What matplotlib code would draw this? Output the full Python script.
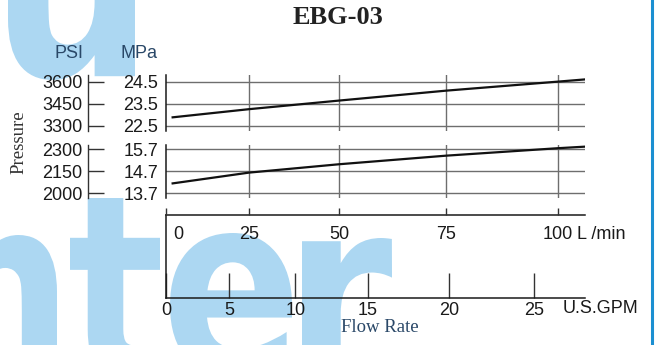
import numpy as np
import matplotlib
matplotlib.use("Agg")
import matplotlib.pyplot as plt
from matplotlib.textpath import TextPath
from matplotlib.patches import PathPatch
from matplotlib.font_manager import FontProperties
from matplotlib.transforms import Affine2D
from matplotlib.lines import Line2D

W, H = 657, 345
LPM_PER_GPM = 3.785411784

# chart data
flow_lpm = [2, 25, 50, 75, 100, 106]
mpa_high = [22.88, 23.25, 23.64, 24.09, 24.50, 24.60]
mpa_low = [14.15, 14.64, 15.02, 15.41, 15.75, 15.82]

mpa_ticks_high = [22.5, 23.5, 24.5]
psi_ticks_high = [3300, 3450, 3600]
mpa_ticks_low = [13.7, 14.7, 15.7]
psi_ticks_low = [2000, 2150, 2300]
lpm_ticks = [0, 25, 50, 75, 100]
gpm_ticks = [0, 5, 10, 15, 20, 25]

# the printed flow axis is stretched toward high flow; knots reproduce its spacing
SCALE_LPM = [-50, 0, 25, 50, 75, 100, 150]
SCALE_POS = [-166, 0, 83, 173, 280, 392, 616]


def fwd(x):
    return np.interp(x, SCALE_LPM, SCALE_POS)


def inv(y):
    return np.interp(y, SCALE_POS, SCALE_LPM)


def box(left, top, right, bottom):
    # pixel box -> figure fraction rect
    return [left / W, 1 - bottom / H, (right - left) / W, (bottom - top) / H]


SANS = "Liberation Sans"
SERIF = "Liberation Serif"
INK = "#1a1a1a"
BLUE_TXT = "#2a4868"
GRID = "#6e6e6e"

fig = plt.figure(figsize=(W / 100, H / 100), dpi=100)
fig.patch.set_facecolor("white")

# watermark letters behind the chart
wm_font = FontProperties(family="DejaVu Sans", weight="bold")
watermark = [
    ("u", (8, -70, 135, 80)),
    ("n", (-53, 235, 57, 375)),
    ("t", (70, 198, 160, 378)),
    ("e", (170, 233, 292, 378)),
    ("r", (302, 238, 392, 375)),
]
for ch, (l, t, r, b) in watermark:
    p = TextPath((0, 0), ch, size=1, prop=wm_font)
    ext = p.get_extents()
    tr = (Affine2D().translate(-ext.x0, -ext.y0)
          .scale((r - l) / ext.width / W, (b - t) / ext.height / H)
          .translate(l / W, 1 - b / H))
    fig.add_artist(PathPatch(tr.transform_path(p), facecolor="#acd7f2",
                             edgecolor="none", transform=fig.transFigure, zorder=-1))
fig.add_artist(Line2D([652 / W, 652 / W], [0, 1], color="#1b8fd1", lw=2.2,
                      transform=fig.transFigure))


def pressure_panel(rect, ylim, mpa, mpa_ticks, psi_ticks, psi_base, mpa_base):
    ax = fig.add_axes(rect)
    ax.set_facecolor("none")
    ax.set_xscale("function", functions=(fwd, inv))
    ax.set_xlim(0, 106)
    ax.set_ylim(*ylim)
    for v in mpa_ticks:
        ax.axhline(v, color=GRID, lw=1.0, zorder=1)
    for v in lpm_ticks[1:]:
        ax.axvline(v, color=GRID, lw=1.0, zorder=1)
    ax.plot(flow_lpm, mpa, color="#111111", lw=1.6, zorder=3)
    for s in ["top", "right", "bottom"]:
        ax.spines[s].set_visible(False)
    ax.spines["left"].set_linewidth(1.1)
    ax.spines["left"].set_color(INK)
    ax.set_xticks([])
    ax.set_yticks(mpa_ticks, labels=[f"{v:.1f}" for v in mpa_ticks])
    ax.tick_params(axis="y", length=0, pad=5.5, labelsize=13, labelcolor=INK)
    for lab in ax.get_yticklabels():
        lab.set_fontfamily(SANS)
    psi = ax.secondary_yaxis(-0.186, functions=(
        lambda m: psi_base + (m - mpa_base) * 150,
        lambda p: mpa_base + (p - psi_base) / 150))
    psi.set_yticks(psi_ticks, labels=[str(v) for v in psi_ticks])
    psi.tick_params(direction="in", length=11.5, width=1.0, color="#333333",
                    pad=4, labelsize=13, labelcolor=INK)
    psi.spines["left"].set_color("#333333")
    psi.spines["left"].set_linewidth(1.0)
    for lab in psi.get_yticklabels():
        lab.set_fontfamily(SANS)
    return ax


pressure_panel(box(166, 75, 585, 131), (22.26, 24.80), mpa_high,
               mpa_ticks_high, psi_ticks_high, 3300, 22.5)
pressure_panel(box(166, 145, 585, 198), (13.486, 15.895), mpa_low,
               mpa_ticks_low, psi_ticks_low, 2000, 13.7)

# flow-rate axes: L/min on top, U.S. GPM at bottom
ax_flow = fig.add_axes(box(166, 215, 585, 298))
ax_flow.set_facecolor("none")
ax_flow.set_xscale("function", functions=(fwd, inv))
ax_flow.set_xlim(0, 106)
ax_flow.set_ylim(0, 1)
ax_flow.set_yticks([])
ax_flow.spines["right"].set_visible(False)
for s in ["top", "left", "bottom"]:
    ax_flow.spines[s].set_linewidth(1.1)
    ax_flow.spines[s].set_color(INK)
ax_flow.set_xticks([g * LPM_PER_GPM for g in gpm_ticks], labels=[str(g) for g in gpm_ticks])
ax_flow.tick_params(axis="x", direction="in", length=18, width=1.0, color="#333333",
                    pad=3, labelsize=13, labelcolor=INK)
for lab in ax_flow.get_xticklabels():
    lab.set_fontfamily(SANS)
ax_flow.text(0.947, -0.125, "U.S.GPM", transform=ax_flow.transAxes, ha="left", va="center",
             fontsize=13, family=SANS, color=INK)

ax_lpm = ax_flow.twiny()
ax_lpm.set_xscale("function", functions=(fwd, inv))
ax_lpm.set_xlim(0, 106)
for s in ax_lpm.spines.values():
    s.set_visible(False)
ax_lpm.set_xticks(lpm_ticks)
ax_lpm.tick_params(axis="x", direction="out", length=5, width=1.0, color="#333333",
                   labeltop=False)
for v in lpm_ticks:
    ax_flow.annotate(str(v), xy=(v, 0.76), xycoords=("data", "axes fraction"),
                     xytext=(5 if v == 0 else 0, 0), textcoords="offset points",
                     ha="left" if v == 0 else "center", va="center",
                     fontsize=13, family=SANS, color=INK)
ax_flow.text(0.982, 0.76, "L /min", transform=ax_flow.transAxes, ha="left", va="center",
             fontsize=13, family=SANS, color=INK)

# titles and headers
fig.text(338 / W, 1 - 18 / H, "EBG-03", ha="center", va="center", fontsize=19,
         fontweight="bold", family=SERIF, color="#222222")
fig.text(83 / W, 1 - 53 / H, "PSI", ha="right", va="center", fontsize=13,
         family=SANS, color=BLUE_TXT)
fig.text(158 / W, 1 - 53 / H, "MPa", ha="right", va="center", fontsize=13,
         family=SANS, color=BLUE_TXT)
fig.text(19 / W, 1 - 142 / H, "Pressure", rotation=90, ha="center", va="center",
         fontsize=13.5, family=SERIF, color="#333333")
fig.text(380 / W, 1 - 328 / H, "Flow Rate", ha="center", va="center", fontsize=13.5,
         family=SERIF, color=BLUE_TXT)

fig.savefig("out.png", dpi=100, facecolor="white")
